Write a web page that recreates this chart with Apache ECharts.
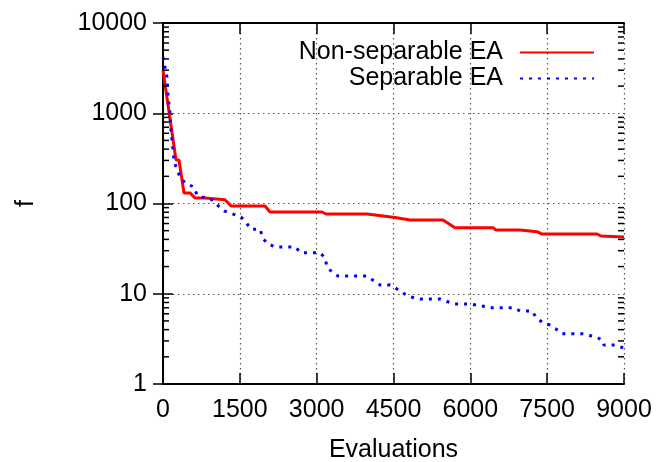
<!DOCTYPE html>
<html>
<head>
<meta charset="utf-8">
<script src="https://cdn.jsdelivr.net/npm/echarts@6/dist/echarts.min.js"></script>
<style>
  html, body { margin: 0; padding: 0; background: #fff; }
  #chart { width: 659px; height: 462px; }
</style>
</head>
<body>
<div id="chart"></div>
<script>
// evaluations / f values
const nonSepX = [0, 254, 312, 410, 527, 625, 820, 1210, 1328, 1991, 2089, 3104, 3180, 3983, 4529, 4822, 5466, 5700, 6443, 6500, 6970, 7301, 7399, 8473, 8550, 9000];
const nonSepY = [3000, 303, 303, 131, 131, 115, 115, 110, 94, 94, 80.5, 80.5, 76.5, 76.5, 70, 65.6, 65.6, 54, 54, 50.8, 50.8, 48.7, 45.9, 45.9, 43.6, 42.6];

const sepX = [0, 78, 98, 137, 156, 195, 215, 254, 332, 430, 605, 664, 820, 957, 1015, 1191, 1347, 1523, 1620, 1718, 1894, 1952, 2050, 2206, 2577, 2694, 3065, 3163, 3202, 3299, 3416, 3983, 4236, 4432, 4568, 4724, 4842, 5018, 5408, 5544, 5700, 5994, 6286, 6384, 6834, 6970, 7204, 7282, 7419, 7555, 7672, 7789, 8180, 8473, 8590, 8609, 8824, 9000];
const sepY = [4200, 2500, 1590, 1000, 650, 392, 303, 254, 197, 169, 152, 124, 115, 110, 101, 83, 77, 71, 62, 52, 52, 41, 35.5, 33, 33, 28.5, 28.5, 25, 19.8, 17.4, 15.7, 15.7, 12.5, 12.5, 11.3, 9.9, 9.2, 8.75, 8.75, 8.2, 7.7, 7.7, 7.2, 7.0, 7.0, 6.45, 6.45, 5.5, 4.75, 4.5, 4.07, 3.6, 3.6, 3.3, 3.0, 2.7, 2.7, 2.5];

const xTicks = [0, 1500, 3000, 4500, 6000, 7500, 9000];
const yTicks = [1, 10, 100, 1000, 10000];

// log minor ticks 2..9 in each decade
const minorTicks = [];
for (let k = 0; k < 4; k++) {
  for (let m = 2; m <= 9; m++) minorTicks.push(m * Math.pow(10, k));
}

const FONT = "'Liberation Sans', Arial, sans-serif";
const chart = echarts.init(document.getElementById("chart"));

const zip = (xs, ys) => xs.map((x, i) => [x, ys[i]]);

const option = {
  animation: false,
  backgroundColor: "#fff",
  textStyle: { fontFamily: FONT },
  grid: {
    left: 163,
    right: 35,
    top: 23,
    bottom: 78,
    containLabel: false,
    outerBoundsMode: "none"
  },
  legend: {
    orient: "vertical",
    align: "right",
    right: 59,
    top: 35,
    itemWidth: 74,
    itemHeight: 12,
    itemGap: 1,
    itemStyle: { color: "transparent", borderWidth: 0, opacity: 0 },
    textStyle: {
      fontFamily: FONT,
      fontSize: 25,
      color: "#000",
      lineHeight: 24,
      padding: [0, 12, 0, 0]
    },
    data: ["Non-separable EA", "Separable EA"]
  },
  xAxis: [
    {
      type: "value",
      min: 0,
      max: 9000,
      interval: 1500,
      name: "Evaluations",
      nameLocation: "middle",
      nameGap: 54,
      nameTextStyle: { fontSize: 25, color: "#000", fontFamily: FONT },
      axisLine: { show: true, lineStyle: { color: "#000", width: 2 } },
      axisTick: { show: true, inside: true, length: 11, lineStyle: { color: "#000", width: 1.5 } },
      axisLabel: {
        fontSize: 25,
        color: "#000",
        margin: 14,
        fontFamily: FONT,
        formatter: v => (xTicks.includes(v) ? String(v) : "")
      },
      splitLine: { show: true, lineStyle: { color: "#555", width: 1.2, type: [1.5, 3.5] } }
    },
    {
      type: "value",
      position: "top",
      min: 0,
      max: 9000,
      interval: 1500,
      axisLine: { show: true, lineStyle: { color: "#000", width: 2 } },
      axisTick: { show: true, inside: true, length: 11, lineStyle: { color: "#000", width: 1.5 } },
      axisLabel: { show: false },
      splitLine: { show: false }
    }
  ],
  yAxis: [
    {
      type: "log",
      logBase: 10,
      min: 1,
      max: 10000,
      name: "f",
      nameLocation: "middle",
      nameGap: 124,
      nameTextStyle: { fontSize: 25, color: "#000", fontFamily: FONT },
      axisLine: { show: true, lineStyle: { color: "#000", width: 2 } },
      axisTick: { show: true, inside: true, length: 10, lineStyle: { color: "#000", width: 1.5 } },
      axisLabel: {
        fontSize: 25,
        color: "#000",
        margin: 16,
        fontFamily: FONT,
        formatter: v => String(Math.round(v))
      },
      splitLine: { show: true, lineStyle: { color: "#555", width: 1.2, type: [1.5, 3.5] } }
    },
    {
      type: "log",
      logBase: 10,
      min: 1,
      max: 10000,
      position: "right",
      axisLine: { show: true, lineStyle: { color: "#000", width: 2 } },
      axisTick: { show: true, inside: true, length: 10, lineStyle: { color: "#000", width: 1.5 } },
      axisLabel: { show: false },
      splitLine: { show: false }
    }
  ],
  series: [
    {
      name: "minor",
      type: "custom",
      silent: true,
      xAxisIndex: 0,
      yAxisIndex: 0,
      data: minorTicks.map(v => [0, v]),
      renderItem: (params, api) => {
        const v = api.value(1);
        const l = api.coord([0, v]);
        const r = api.coord([9000, v]);
        const style = { stroke: "#000", lineWidth: 1.5 };
        return {
          type: "group",
          children: [
            { type: "line", shape: { x1: l[0], y1: l[1], x2: l[0] + 6, y2: l[1] }, style },
            { type: "line", shape: { x1: r[0] - 6, y1: r[1], x2: r[0], y2: r[1] }, style }
          ]
        };
      },
      z: 5
    },
    {
      name: "Non-separable EA",
      type: "line",
      symbol: "none",
      data: zip(nonSepX, nonSepY),
      lineStyle: { color: "#ff0000", width: 3 },
      itemStyle: { color: "#ff0000" },
      z: 3
    },
    {
      name: "Separable EA",
      type: "line",
      symbol: "none",
      data: zip(sepX, sepY),
      lineStyle: { color: "#0000ff", width: 3, type: [3, 6] },
      itemStyle: { color: "#0000ff" },
      z: 4
    }
  ]
};

chart.setOption(option);
</script>
</body>
</html>
